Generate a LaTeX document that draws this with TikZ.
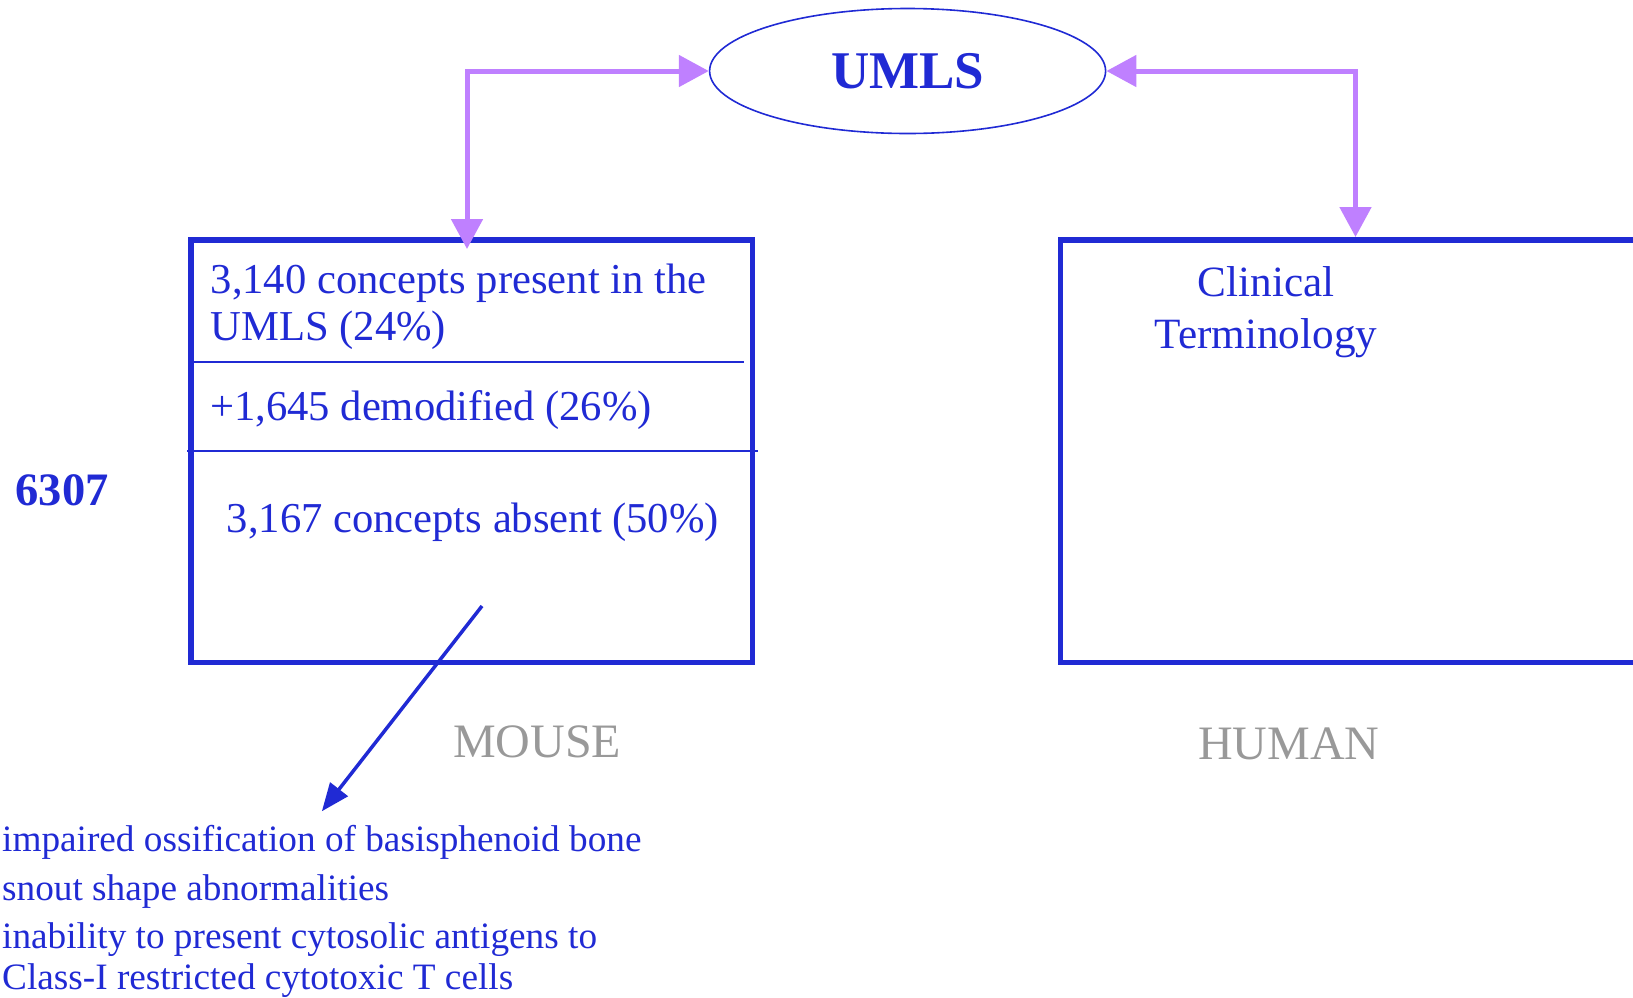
\documentclass[tikz,border=0pt]{standalone}
\usepackage{fontspec}
\setmainfont{Liberation Serif}
\usetikzlibrary{arrows.meta,shapes.geometric}
\definecolor{dblue}{RGB}{32,42,212}
\definecolor{lpurple}{RGB}{191,128,255}
\definecolor{lgray}{RGB}{153,153,153}
\begin{document}
\begin{tikzpicture}[x=1pt,y=1pt,
  txt/.style={inner sep=0pt, anchor=base west, text=dblue, font=\fontsize{42.6}{46.7}\selectfont, align=left},
  listtxt/.style={inner sep=0pt, anchor=base west, text=dblue, font=\fontsize{37.25}{41}\selectfont, align=left},
  tag/.style={inner sep=0pt, anchor=base west, text=lgray, font=\fontsize{48}{52}\selectfont},
  boxframe/.style={draw=dblue, line width=5.3pt},
  divider/.style={draw=dblue, line width=1.6pt},
  link/.style={draw=lpurple, line width=5pt, {Triangle[length=30pt,width=31pt]}-{Triangle[length=30pt,width=31pt]}},
  pointer/.style={draw=dblue, line width=3.5pt, -{Triangle[length=28pt,width=22pt]}}
]
\useasboundingbox (0,0) rectangle (1633,-997);
% UMLS ellipse
\node[ellipse, draw=dblue, line width=1.6pt, minimum width=396pt, minimum height=125pt,
      inner sep=0pt, text=dblue, font=\bfseries\fontsize{53}{58}\selectfont] (umls) at (907.6,-71) {UMLS};
% mouse box
\node[boxframe, rectangle, minimum width=561.5pt, minimum height=422.5pt, inner sep=0pt, outer sep=0pt]
      (mousebox) at (471.75,-451.25) {};
\draw[divider] (193,-361.7) -- (744,-361.7);
\draw[divider] (187,-451) -- (757.5,-451);
% human box (cut by the right edge)
\draw[boxframe] (1633,-240) -- (1060.7,-240) -- (1060.7,-662.5) -- (1633,-662.5);
\coordinate (humantop) at (1355.5,-237);
% texts (multi-line nodes: base = last line)
\node[txt] (present) at (210.5,-340) {3,140 concepts present in the\\UMLS (24\%)};
\node[txt] (demod) at (210,-420) {+1,645 demodified (26\%)};
\node[txt] (absent) at (226.6,-532) {3,167 concepts absent (50\%)};
\node[txt, font=\bfseries\fontsize{46.5}{50}\selectfont] (total) at (15.5,-505) {6307};
\node[txt, align=center, anchor=base, font=\fontsize{43.2}{51.7}\selectfont] (clin) at (1266,-348.3) {Clinical\\Terminology};
\node[tag] (mouse) at (453,-757.3) {MOUSE};
\node[tag] (human) at (1198,-759) {HUMAN};
\node[listtxt] (item1) at (2,-851.7) {impaired ossification of basisphenoid bone};
\node[listtxt] (item2) at (2,-900) {snout shape abnormalities};
\node[listtxt] (item3) at (2,-989.3) {inability to present cytosolic antigens to\\Class-I restricted cytotoxic T cells};
% connectors
\draw[link] (umls.west) -| ([xshift=-4.75pt,yshift=-9pt]mousebox.north);
\draw[link] (umls.east) -| (humantop);
\coordinate (absfrom) at (482,-606);
\draw[pointer] (absfrom) -- ([yshift=14pt]item1.north);
\end{tikzpicture}
\end{document}
